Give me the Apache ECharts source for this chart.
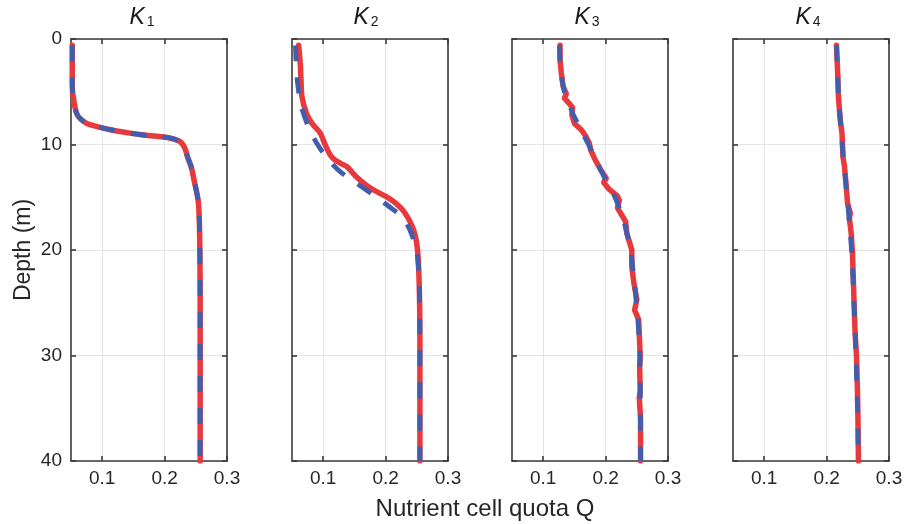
<!DOCTYPE html>
<html>
<head>
<meta charset="utf-8">
<script src="https://cdn.jsdelivr.net/npm/echarts@6/dist/echarts.min.js"></script>
<style>html,body{margin:0;padding:0;background:#fff;}#c{width:907px;height:524px;}</style>
</head>
<body>
<div id="c"></div>
<script>
// ---- data (depth in m, Q values) ----
var panelTitles = ['1', '2', '3', '4'];
var xTicks = [0.1, 0.2, 0.3];
var yTicks = [0, 10, 20, 30, 40];

var depthRed1 = [0.6, 2, 4, 5, 5.5, 6.2, 7.05, 7.5, 8.0, 8.3, 8.6, 8.9, 9.1, 9.4, 9.7, 9.95, 10.3, 10.7, 11.15, 12.2, 13.4, 15.3, 17, 20, 25, 30, 40];
var qRed1     = [0.052, 0.052, 0.052, 0.0525, 0.0537, 0.0555, 0.059, 0.064, 0.0753, 0.092, 0.113, 0.142, 0.1666, 0.2097, 0.224, 0.2285, 0.232, 0.2345, 0.2366, 0.243, 0.2473, 0.2537, 0.2555, 0.2565, 0.257, 0.257, 0.257];
var depthBlue1 = depthRed1;
var qBlue1     = [0.052, 0.052, 0.052, 0.0525, 0.0537, 0.0555, 0.059, 0.064, 0.0753, 0.092, 0.113, 0.142, 0.1666, 0.2097, 0.224, 0.2285, 0.232, 0.2345, 0.2366, 0.243, 0.2473, 0.2537, 0.2555, 0.2565, 0.257, 0.257, 0.257];

var depthRed2 = [0.6, 2.6, 4, 5.5, 7, 8, 8.9, 10, 11.2, 11.8, 12.1, 13.05, 14.1, 14.95, 15.6, 16.4, 17.8, 19.05, 21, 25, 30, 40];
var qRed2     = [0.0608, 0.0635, 0.0645, 0.066, 0.073, 0.082, 0.095, 0.103, 0.114, 0.128, 0.138, 0.153, 0.175, 0.201, 0.217, 0.23, 0.243, 0.249, 0.2524, 0.2545, 0.255, 0.255];
var depthBlue2 = [0.6, 4.2, 7, 9.9, 12.3, 14.1, 15.9, 17, 18.4, 20.6, 25, 30, 40];
var qBlue2     = [0.0556, 0.059, 0.068, 0.090, 0.122, 0.164, 0.206, 0.228, 0.241, 0.251, 0.2545, 0.255, 0.255];

var depthRed3 = [0.6, 2, 3.2, 4.5, 5.2, 5.6, 6.0, 6.5, 7.2, 8, 8.6, 9.2, 9.9, 10.5, 11.3, 12.4, 13.2, 13.6, 14.2, 14.9, 15.3, 16.0, 17.3, 18.4, 20, 21.6, 23, 24.7, 25.7, 26.6, 28, 30.1, 31, 33.3, 34, 36, 40];
var qRed3     = [0.127, 0.127, 0.129, 0.132, 0.137, 0.134, 0.140, 0.147, 0.146, 0.150, 0.161, 0.168, 0.174, 0.176, 0.182, 0.192, 0.201, 0.197, 0.205, 0.219, 0.222, 0.219, 0.232, 0.234, 0.242, 0.242, 0.245, 0.250, 0.2465, 0.253, 0.254, 0.2555, 0.2545, 0.2555, 0.254, 0.256, 0.256];
var depthBlue3 = [0.6, 3, 5, 7, 9, 11, 13, 15, 17, 20, 23, 26, 30, 40];
var qBlue3     = [0.126, 0.128, 0.134, 0.147, 0.164, 0.181, 0.197, 0.215, 0.228, 0.240, 0.246, 0.251, 0.255, 0.256];

var depthRed4 = [0.6, 3.6, 5, 6.7, 7.5, 8.9, 10, 11.2, 12, 13, 14, 15.6, 16.5, 17, 18.4, 20.3, 23.1, 25, 27.9, 30.1, 34.2, 37, 40];
var qRed4     = [0.2158, 0.218, 0.2185, 0.2205, 0.2215, 0.2246, 0.2255, 0.2262, 0.2285, 0.230, 0.2315, 0.2336, 0.238, 0.2365, 0.2394, 0.2415, 0.243, 0.244, 0.2457, 0.248, 0.2498, 0.2505, 0.251];
var depthBlue4 = [0.6, 5, 10, 15, 20, 25, 30, 35, 40];
var qBlue4     = [0.216, 0.219, 0.225, 0.233, 0.240, 0.244, 0.247, 0.2495, 0.251];

var redSets  = [[depthRed1, qRed1], [depthRed2, qRed2], [depthRed3, qRed3], [depthRed4, qRed4]];
var blueSets = [[depthBlue1, qBlue1], [depthBlue2, qBlue2], [depthBlue3, qBlue3], [depthBlue4, qBlue4]];
var smoothFlags = [true, true, false, false];

// ---- layout ----
var FONT = 'Liberation Sans, Arial, Helvetica, sans-serif';
var lefts = [71, 292, 512, 733];
var titleShift = [-7, -4, -3, -3];
var W = 156, TOP = 39, BOTTOM = 63;
var AX = '#3a3a3a', TXT = '#262626';

function pairs(d, q) { return d.map(function (v, i) { return [q[i], v]; }); }

var grids = [], xAxes = [], yAxes = [], series = [], graphics = [];
for (var i = 0; i < 4; i++) {
  grids.push({ left: lefts[i], top: TOP, width: W, bottom: BOTTOM, containLabel: false });
  var common = {
    type: 'value', gridIndex: i, min: 0.05, max: 0.3,
    axisLine: { show: true, onZero: false, lineStyle: { color: AX, width: 1.6 } },
    axisTick: { show: true, inside: true, length: 5, customValues: xTicks, lineStyle: { color: AX, width: 1.6 } }
  };
  xAxes.push(Object.assign({}, common, {
    position: 'bottom',
    axisLabel: { show: true, customValues: xTicks, margin: 8, color: TXT, fontSize: 19, fontFamily: FONT,
      formatter: function (v) { return v.toFixed(1); } },
    splitLine: { show: true, lineStyle: { color: '#e4e4e4', width: 1 } }
  }));
  xAxes.push(Object.assign({}, common, {
    position: 'top',
    axisLabel: { show: false },
    splitLine: { show: false }
  }));
  var ycommon = {
    type: 'value', gridIndex: i, min: 0, max: 40, interval: 10, inverse: true,
    axisLine: { show: true, onZero: false, lineStyle: { color: AX, width: 1.6 } },
    axisTick: { show: true, inside: true, length: 5, lineStyle: { color: AX, width: 1.6 } }
  };
  yAxes.push(Object.assign({}, ycommon, {
    position: 'left',
    name: i === 0 ? 'Depth (m)' : '',
    nameLocation: 'middle', nameGap: 36, nameRotate: 90,
    nameTextStyle: { color: TXT, fontSize: 23, fontFamily: FONT },
    axisLabel: { show: i === 0, margin: 9, color: TXT, fontSize: 19, fontFamily: FONT },
    splitLine: { show: true, lineStyle: { color: '#e4e4e4', width: 1 } }
  }));
  yAxes.push(Object.assign({}, ycommon, {
    position: 'right',
    axisLabel: { show: false },
    splitLine: { show: false }
  }));
  series.push({
    type: 'line', xAxisIndex: 2 * i, yAxisIndex: 2 * i,
    data: pairs(redSets[i][0], redSets[i][1]),
    showSymbol: false, symbol: 'none', smooth: smoothFlags[i] ? 0.35 : false,
    lineStyle: { color: '#e8393c', width: 5.5, cap: 'round', join: 'round' },
    z: 3
  });
  series.push({
    type: 'line', xAxisIndex: 2 * i, yAxisIndex: 2 * i,
    data: pairs(blueSets[i][0], blueSets[i][1]),
    showSymbol: false, symbol: 'none', smooth: smoothFlags[i] ? 0.35 : 0.2,
    lineStyle: { color: '#3f5fae', width: 4.8, type: [16, 16], cap: 'butt' },
    z: 4
  });
  graphics.push({
    type: 'text', x: lefts[i] + W / 2 + titleShift[i], y: 18,
    style: {
      text: '{k|K}{s|' + panelTitles[i] + '}',
      align: 'center', verticalAlign: 'middle',
      rich: {
        k: { fontSize: 23, fontStyle: 'italic', fontFamily: FONT, fill: '#1a1a1a', lineHeight: 23, verticalAlign: 'top' },
        s: { fontSize: 14, fontFamily: FONT, fill: '#1a1a1a', lineHeight: 14, verticalAlign: 'bottom', padding: [11, 0, 0, 2] }
      }
    }
  });
}
graphics.push({
  type: 'text', x: 485, y: 509,
  style: { text: 'Nutrient cell quota Q', align: 'center', verticalAlign: 'middle',
    fontSize: 24, fontFamily: FONT, fill: TXT }
});

var chart = echarts.init(document.getElementById('c'), null, { renderer: 'canvas' });
chart.setOption({
  animation: false,
  backgroundColor: '#ffffff',
  grid: grids,
  xAxis: xAxes,
  yAxis: yAxes,
  series: series,
  graphic: graphics
});
</script>
</body>
</html>
